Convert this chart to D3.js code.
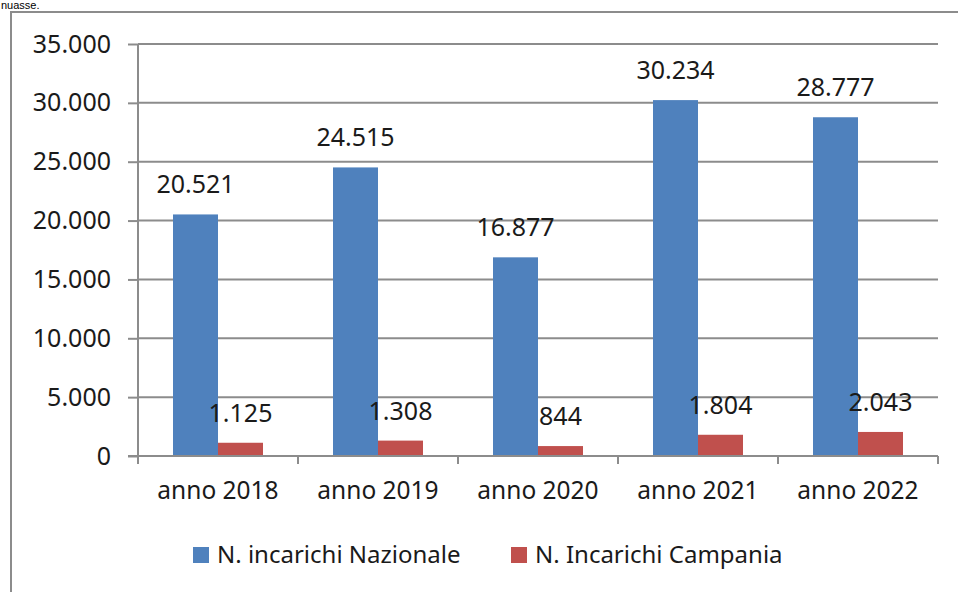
<!DOCTYPE html>
<html>
<head>
<meta charset="utf-8">
<script src="https://cdn.jsdelivr.net/npm/d3@7"></script>
<style>
  html, body { margin: 0; padding: 0; background: #ffffff; }
  svg { display: block; }
  text { font-family: "Noto Sans", "Open Sans", sans-serif; fill: #1a1a1a; }
</style>
</head>
<body>
<svg id="chart" width="958" height="592"></svg>
<script>
const categories = ["anno 2018", "anno 2019", "anno 2020", "anno 2021", "anno 2022"];
const seriesNames = ["N. incarichi Nazionale", "N. Incarichi Campania"];
const nazionale = [20521, 24515, 16877, 30234, 28777];
const campania = [1125, 1308, 844, 1804, 2043];
const yTicks = [0, 5000, 10000, 15000, 20000, 25000, 30000, 35000];
const colors = ["#4f81bd", "#c0504d"];

const locale = d3.formatLocale({ decimal: ",", thousands: ".", grouping: [3], currency: ["€", ""] });
const fmt = locale.format(",d");

const svg = d3.select("#chart");
const gray = "#8c8c8c";

// text fragment at top of page
svg.append("text").attr("x", 1).attr("y", 9)
  .style("font-family", "'Liberation Sans', Arial, sans-serif")
  .style("font-size", "11px").style("fill", "#000").text("nuasse.");

// outer frame (only top and left visible)
svg.append("path")
  .attr("d", "M11,600 L11,12 L960,12")
  .attr("fill", "none").attr("stroke", gray).attr("stroke-width", 2);

const margin = { left: 138, right: 938, top: 44, bottom: 456 };

const x0 = d3.scaleBand().domain(categories).range([margin.left, margin.right]).paddingInner(0).paddingOuter(0);
const x1 = d3.scaleBand().domain([0, 1]).range([0, 90]);
const groupOffset = (x0.bandwidth() - 90) / 2;
const y = d3.scaleLinear().domain([0, 35000]).range([margin.bottom, margin.top]);

// gridlines
svg.append("g").selectAll("line").data(yTicks.filter(d => d > 0)).join("line")
  .attr("x1", margin.left).attr("x2", margin.right)
  .attr("y1", d => y(d)).attr("y2", d => y(d))
  .attr("stroke", gray).attr("stroke-width", 2);

// y axis
const yAxis = svg.append("g").attr("transform", `translate(${margin.left},0)`)
  .call(d3.axisLeft(y).tickValues(yTicks).tickFormat(d => fmt(d)).tickSize(10).tickPadding(17));
yAxis.select(".domain").attr("stroke", gray).attr("stroke-width", 2).attr("d", `M0,${margin.top}V${margin.bottom}`);
yAxis.selectAll(".tick line").attr("stroke", gray).attr("stroke-width", 2);
yAxis.selectAll(".tick text").style("font-size", "25px").style("fill", "#1a1a1a")
  .style("font-family", "'Noto Sans', sans-serif");

// bars
const groups = svg.append("g").selectAll("g").data(categories).join("g")
  .attr("transform", d => `translate(${x0(d) + groupOffset},0)`);

groups.each(function(c, i) {
  const g = d3.select(this);
  const vals = [nazionale[i], campania[i]];
  vals.forEach((v, s) => {
    g.append("rect")
      .attr("x", x1(s)).attr("width", x1.bandwidth())
      .attr("y", y(v)).attr("height", y(0) - y(v))
      .attr("fill", colors[s]);
    g.append("text")
      .attr("x", x1(s) + x1.bandwidth() / 2)
      .attr("y", y(v) - 21)
      .attr("text-anchor", "middle")
      .style("font-size", "25px")
      .text(fmt(v));
  });
});

// x axis
const xAxis = svg.append("g").attr("transform", `translate(0,${margin.bottom})`)
  .call(d3.axisBottom(x0).tickSize(0).tickPadding(26));
xAxis.select(".domain").attr("stroke", gray).attr("stroke-width", 2)
  .attr("d", `M${margin.left - 10},0H${margin.right}`);
xAxis.selectAll(".tick text").style("font-size", "24.5px").style("fill", "#1a1a1a")
  .style("font-family", "'Noto Sans', sans-serif");
// category boundary ticks
const bounds = categories.map(c => x0(c)).concat([margin.right]);
svg.append("g").selectAll("line").data(bounds).join("line")
  .attr("x1", d => d).attr("x2", d => d)
  .attr("y1", margin.bottom).attr("y2", margin.bottom + 8)
  .attr("stroke", gray).attr("stroke-width", 2);

// legend
const legendItems = [{ name: seriesNames[0], x: 193 }, { name: seriesNames[1], x: 511 }];
const lg = svg.append("g").selectAll("g").data(legendItems).join("g")
  .attr("transform", d => `translate(${d.x},547)`);
lg.append("rect").attr("width", 16).attr("height", 16).attr("fill", (d, i) => colors[i]);
lg.append("text").attr("x", 24).attr("y", 16).style("font-size", "24px").text(d => d.name);
</script>
</body>
</html>
